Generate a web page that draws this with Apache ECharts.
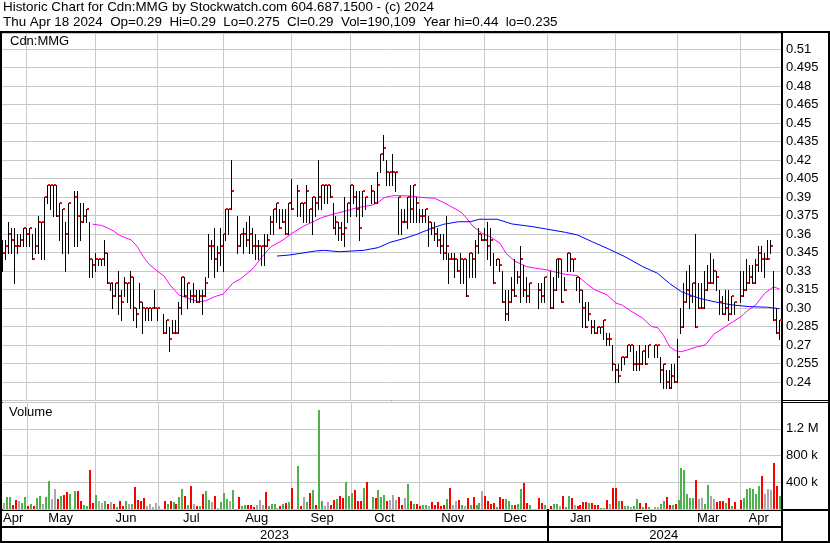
<!DOCTYPE html>
<html><head><meta charset="utf-8">
<script src="https://cdn.jsdelivr.net/npm/echarts@6.0.0/dist/echarts.min.js"></script>
<style>html,body{margin:0;padding:0;background:#fff}#c{width:830px;height:543px}</style>
</head><body><div id="c"></div>
<script>
// ---------- DATA ----------
const firstDay = '2023-04-19', lastDay = '2024-04-18';   // one slot per weekday; holidays are null
const high = [.355,.355,.37,.365,.365,.36,.36,.365,.365,.365,
.36,.365,.375,.37,.39,.40,.40,.40,.40,.385,
.38,.37,.385,null,.395,.395,.385,.385,.38,.37,
.34,.345,.34,.34,.355,.345,.32,.32,.32,.33,
.315,.325,.32,.33,.325,.30,.32,.305,.30,.30,
.30,.315,.30,null,.295,.29,.285,.29,.29,.305,
.325,.325,.32,.315,.32,.315,.315,.315,.325,.36,
.355,.365,.35,.365,.36,.38,.38,.42,null,.375,
.36,.365,.37,.375,.365,.36,.355,.35,.36,.36,
.375,.38,.385,.38,.38,.38,.385,.405,null,.40,
.385,.385,.40,.38,.39,.39,.42,.40,.40,.40,
.40,.385,.375,.37,.37,.39,.385,.40,.40,.395,
.395,.395,.39,null,.40,.395,.41,.425,.44,.42,
.41,.425,.41,.39,.38,.38,.39,.40,.40,.39,
.38,.38,.38,.375,.37,.37,.365,.36,.36,.375,
.345,.345,.345,.34,.345,.34,.34,.345,.345,.355,
.365,.36,.365,.37,.365,.345,.34,.34,.33,.315,
.315,.325,.34,.33,.35,.335,.325,.32,null,null,
.32,.32,.325,null,.33,.325,.34,.34,.34,.325,
.345,.345,.34,.325,.325,.315,.305,.305,.29,.29,
.285,.285,.29,.28,.28,.27,.255,.255,.26,.26,
.27,.27,.27,.265,.27,.265,.27,.27,null,.27,
.27,.26,.255,.25,.25,.255,.255,.275,.30,.32,
.33,.335,.32,.36,.32,.32,.33,.335,.345,.34,
.33,.315,.31,.315,.315,.31,.305,null,.33,.33,
.34,.335,.335,.34,.35,.35,.345,.355,.355,.33,
.30,.29];
const low = [.33,.34,.345,.345,.32,.345,.35,.35,.35,.35,
.34,.345,.345,.34,.34,.385,.38,.375,.375,.355,
.345,.33,.345,null,.35,.35,.355,.37,.37,.325,
.325,.33,.335,.335,.335,.32,.315,.30,.31,.295,
.29,.31,.305,.30,.29,.285,.30,.28,.29,.29,
.29,.30,.29,null,.28,.28,.265,.28,.28,.28,
.295,.31,.30,.305,.305,.305,.305,.295,.31,.325,
.34,.325,.33,.335,.33,.355,.36,.38,null,.345,
.35,.345,.35,.345,.345,.34,.34,.335,.335,.35,
.36,.36,.37,.365,.37,.36,.36,.38,null,.375,
.375,.37,.37,.37,.36,.375,.38,.38,.385,.385,
.39,.365,.36,.355,.355,.35,.37,.375,.385,.375,
.355,.375,.38,null,.385,.385,.385,.41,.42,.40,
.40,.40,.395,.36,.36,.37,.365,.37,.37,.37,
.37,.37,.37,.35,.36,.355,.35,.345,.34,.34,
.32,.34,.325,.33,.32,.32,.31,.325,.325,.325,
.345,.355,.355,.34,.335,.32,.335,.33,.305,.29,
.29,.305,.31,.32,.305,.31,.305,.305,null,null,
.30,.305,.305,null,.30,.30,.315,.325,.305,.315,
.33,.33,.33,.315,.305,.285,.285,.29,.28,.28,
.28,.28,.275,.27,.27,.25,.24,.24,.25,.255,
.26,.265,.25,.25,.25,.255,.255,.26,null,.26,
.26,.24,.235,.235,.235,.235,.24,.24,.28,.285,
.305,.30,.305,.285,.30,.30,.30,.315,.32,.32,
.315,.295,.295,.295,.29,.295,.295,null,.305,.31,
.315,.32,.32,.32,.33,.33,.325,.34,.345,.29,
.28,.275];
const close = [.345,.35,.36,.355,.35,.35,.355,.365,.36,.365,
.34,.35,.37,.37,.39,.40,.40,.40,.375,.385,
.38,.36,.385,null,.39,.375,.37,.375,.38,.34,
.335,.34,.34,.34,.345,.32,.32,.31,.32,.31,
.305,.32,.32,.325,.30,.295,.305,.30,.30,.30,
.30,.30,.30,null,.28,.29,.275,.28,.28,.30,
.325,.31,.32,.31,.31,.305,.31,.31,.32,.35,
.35,.34,.345,.35,.36,.38,.38,.395,null,.35,
.36,.36,.355,.36,.35,.35,.35,.35,.35,.355,
.37,.38,.385,.365,.37,.36,.385,.38,null,.395,
.385,.385,.395,.38,.39,.385,.39,.40,.40,.40,
.39,.365,.37,.365,.36,.365,.385,.40,.39,.38,
.365,.395,.39,null,.395,.385,.40,.425,.43,.41,
.41,.41,.41,.39,.37,.37,.39,.38,.40,.385,
.375,.375,.38,.37,.365,.36,.355,.35,.345,.35,
.34,.34,.34,.33,.34,.34,.31,.345,.34,.35,
.36,.355,.355,.35,.355,.32,.34,.335,.305,.295,
.305,.315,.31,.325,.34,.315,.31,.32,null,null,
.315,.31,.325,null,.30,.315,.34,.34,.305,.315,
.345,.34,.34,.325,.315,.30,.285,.295,.285,.28,
.285,.285,.29,.275,.275,.255,.25,.245,.26,.26,
.27,.27,.255,.255,.255,.265,.255,.27,null,.27,
.27,.25,.255,.24,.235,.245,.24,.26,.285,.305,
.315,.31,.32,.285,.30,.30,.315,.32,.32,.33,
.325,.305,.295,.30,.295,.31,.305,null,.31,.315,
.32,.325,.32,.335,.345,.34,.34,.34,.35,.29,
.28,.29];
// volume in thousands of shares; colour code per day: g = up, r = down, n = unchanged, - = no trading
const volumeK = [84,174,185,59,135,119,84,174,45,70,
45,160,190,75,179,419,149,294,144,194,
209,249,224,null,269,269,119,59,45,583,
84,209,119,89,119,75,105,75,32,119,
45,119,70,80,328,135,119,164,45,75,
32,89,45,null,119,75,119,105,70,179,
299,194,67,344,75,45,45,224,269,135,
105,194,15,105,239,149,119,284,null,179,
45,59,59,59,32,59,135,59,254,45,
75,75,15,45,75,89,105,314,null,643,
45,179,105,239,284,59,1480,119,45,105,
59,135,149,194,164,404,194,239,284,119,
119,314,404,null,179,164,284,179,209,119,
135,209,135,179,59,164,374,119,75,75,
45,59,59,45,105,59,105,45,59,149,
314,59,119,135,59,45,164,59,179,59,
89,269,194,119,75,89,32,179,149,149,
119,59,59,75,299,388,89,59,null,null,
164,89,59,null,45,75,75,45,194,32,
194,164,59,45,59,105,105,89,89,59,
59,15,15,135,75,314,314,119,119,45,
45,32,45,149,89,32,89,32,null,32,
32,75,119,179,59,59,75,135,613,583,
224,164,164,434,149,164,75,358,194,149,
105,119,119,89,164,45,105,null,135,164,
299,314,299,224,344,493,224,299,284,688,
344,190.109];
const volumeDir = "nggrrnggrg"+"rggnggnnrg"+"rrg-grrggr"+"rgnngrnrgr"+"rgngrrrrnn"+
"nnn-rgrgrg"+"grgrnrgrgg"+"nrngggng-r"+"ggrrrnnnrg"+"ggnrgrgr-g"+
"rngrgrggnn"+"rrgrrgggrr"+"rgr-grgggr"+"nnnrrngrgr"+"rggnrrrrrg"+
"rnnrgnrgrg"+"gnrrrrgrrg"+"ggrggrrg--"+"rrg-rggnrg"+"grnrrrrgrr"+
"rggrnrrgrg"+"gnggrgrg-n"+"nggrrgrggg"+"gggrnnggnn"+"rrrgrgr-rg"+
"gggggrnnnr"+"rg";
// moving averages: [day slot, value]
const maShort = [[30,.368],[33,.367],[35,.365],[37,.3625],[39,.359],[41,.357],[43,.3552],[45,.3498],[47,.3417],[49,.3355],[52,.3295],[54,.326],[56,.3187],[59,.3107],[62,.308],[66,.3052],[68,.306],[71,.3093],[74,.3115],[77,.32],[80,.3242],[84,.3323],[87,.3417],[90,.3498],[94,.3552],[97,.3606],[101,.3665],[105,.371],[107,.3733],[110,.3755],[115,.3787],[119,.3814],[124,.3835],[126,.3857],[128,.3895],[131,.3911],[134,.3911],[137,.3908],[140,.3898],[145,.389],[147,.3868],[150,.383],[154,.3776],[156,.3722],[158,.366],[161,.3606],[164,.3574],[167,.3525],[169,.3444],[172,.338],[176,.3336],[179,.3323],[183,.3309],[186,.329],[189,.3274],[193,.3263],[196,.32],[199,.3147],[203,.3107],[206,.304],[208,.3026],[211,.2977],[215,.2918],[218,.285],[220,.2842],[222,.278],[224,.2688],[226,.2655],[228,.2647],[230,.2661],[233,.2685],[236,.2701],[239,.279],[242,.2837],[245,.2885],[248,.293],[250,.2975],[253,.3026],[256,.312],[259,.3172],[261,.3155]];
const maLong = [[92,.3422],[96,.343],[100,.3444],[105,.3463],[108,.3468],[113,.3457],[121,.3468],[126,.349],[130,.3533],[135,.3566],[139,.3598],[144,.3647],[148,.3679],[153,.37],[157,.37],[160,.372],[166,.372],[171,.3682],[178,.366],[183,.3639],[189,.3614],[193,.3593],[198,.3538],[203,.3485],[209,.3417],[215,.3336],[220,.3282],[224,.32],[228,.3133],[234,.308],[239,.3052],[245,.3026],[251,.3012],[257,.3007],[261,.2995]];
const monthNames = ['Jan','Feb','Mar','Apr','May','Jun','Jul','Aug','Sep','Oct','Nov','Dec'];
const headerLine1 = 'Historic Chart for Cdn:MMG by Stockwatch.com 604.687.1500 - (c) 2024';
const headerLine2 = 'Thu Apr 18 2024  Op=0.29  Hi=0.29  Lo=0.275  Cl=0.29  Vol=190,109  Year hi=0.44  lo=0.235';

// ---------- BUILD ----------
const days = [];
for (let d = new Date(firstDay + 'T00:00:00Z'); d <= new Date(lastDay + 'T00:00:00Z'); d.setUTCDate(d.getUTCDate() + 1)) {
  const w = d.getUTCDay(); if (w === 0 || w === 6) continue;
  days.push(d.toISOString().slice(0, 10));
}
const N = days.length;
const monthLines = [];
for (let i = 1; i < N; i++) {
  if (days[i].slice(0, 7) !== days[i - 1].slice(0, 7)) monthLines.push(days[i].slice(8) === '01' ? i : i - 1);
}
const bounds = [-0.5].concat(monthLines, [N - 0.5]);
const monthLabelIdx = {};
for (let k = 0; k < bounds.length - 1; k++) {
  const mid = Math.floor((bounds[k] + bounds[k + 1]) / 2);
  monthLabelIdx[mid] = monthNames[parseInt(days[mid].slice(5, 7), 10) - 1];
}
const yearLine = monthLines.find(i => days[i].slice(0, 7) === '2024-01');
const yearLabelIdx = {};
yearLabelIdx[Math.floor((-0.5 + yearLine) / 2)] = days[0].slice(0, 4);
yearLabelIdx[Math.floor((yearLine + N - 0.5) / 2)] = days[N - 1].slice(0, 4);

const priceData = [], volData = [];
for (let i = 0; i < N; i++) {
  if (high[i] != null) priceData.push([i, high[i], low[i], close[i]]);
  if (volumeK[i] != null) volData.push([i, volumeK[i] * 1000, 'grn'.indexOf(volumeDir[i])]);
}
const volColors = ['#4db24d', '#ff0000', '#a8a8a8'];
const GRID = '#c8c8c8';
const FONT = '"Liberation Sans", Arial, sans-serif';

function fmtPrice(v) {
  const r = Math.round(v * 1000) / 1000;
  if (r < 0.2375 || r > 0.515) return '';
  let s = r.toFixed(3);
  if (s.endsWith('0')) s = s.slice(0, -1);
  return s;
}
function fmtVol(v) {
  if (v <= 0 || v >= 1600000) return '';
  return v >= 1000000 ? (v / 1000000) + ' M' : (v / 1000) + ' k';
}
function gridLineItem(params, api) {
  const cs = params.coordSys;
  const x = Math.round(api.coord([api.value(0), api.value(1)])[0]) - 0.5;
  const kids = [{ type: 'line', shape: { x1: x, y1: cs.y, x2: x, y2: cs.y + cs.height }, style: { stroke: GRID, lineWidth: 1 } }];
  if (params.seriesIndex === 1 && api.value(0) === yearLine) {
    kids.push({ type: 'rect', shape: { x: Math.round(x) - 1, y: cs.y + cs.height, width: 2, height: 32 }, style: { fill: '#000' } });
  }
  return { type: 'group', children: kids };
}

const chart = echarts.init(document.getElementById('c'));
chart.setOption({
  animation: false,
  backgroundColor: '#fff',
  grid: [
    { left: 2, top: 33, width: 779, height: 367.7 },
    { left: 2, top: 402, width: 779, height: 107 }
  ],
  xAxis: [
    { type: 'category', gridIndex: 0, data: days, boundaryGap: true, axisLine: { show: false }, axisTick: { show: false }, axisLabel: { show: false }, splitLine: { show: false } },
    { type: 'category', gridIndex: 1, data: days, boundaryGap: true, axisLine: { show: false }, axisTick: { show: false }, splitLine: { show: false },
      axisLabel: { interval: (i) => monthLabelIdx[i] !== undefined, formatter: (v, i) => monthLabelIdx[i] || '', margin: 3, color: '#000', fontSize: 13, fontFamily: FONT } },
    { type: 'category', gridIndex: 1, data: days, boundaryGap: true, position: 'bottom', offset: 17, axisLine: { show: false }, axisTick: { show: false }, splitLine: { show: false },
      axisLabel: { interval: (i) => yearLabelIdx[i] !== undefined, formatter: (v, i) => yearLabelIdx[i] || '', margin: 3, color: '#000', fontSize: 13, fontFamily: FONT } }
  ],
  yAxis: [
    { type: 'value', gridIndex: 0, position: 'right', min: 0.225, max: 0.5229, interval: 0.015,
      axisLine: { show: false }, axisTick: { show: false },
      splitLine: { lineStyle: { color: GRID, width: 1 } },
      axisLabel: { formatter: fmtPrice, margin: 5, color: '#000', fontSize: 13, fontFamily: FONT } },
    { type: 'value', gridIndex: 1, position: 'right', min: 0, max: 1600000, interval: 400000,
      axisLine: { show: false }, axisTick: { show: false },
      splitLine: { lineStyle: { color: GRID, width: 1 } },
      axisLabel: { formatter: fmtVol, margin: 5, color: '#000', fontSize: 13, fontFamily: FONT } }
  ],
  series: [
    { type: 'custom', xAxisIndex: 0, yAxisIndex: 0, silent: true, z: 1, data: monthLines.map(i => [i, 0.3]), renderItem: gridLineItem },
    { type: 'custom', xAxisIndex: 1, yAxisIndex: 1, silent: true, z: 1, clip: false, data: monthLines.map(i => [i, 0]), renderItem: gridLineItem },
    { type: 'line', xAxisIndex: 0, yAxisIndex: 0, data: maShort, showSymbol: false, connectNulls: true, z: 2, silent: true, lineStyle: { color: '#ff00ff', width: 1 } },
    { type: 'line', xAxisIndex: 0, yAxisIndex: 0, data: maLong, showSymbol: false, connectNulls: true, z: 2, silent: true, lineStyle: { color: '#0000ff', width: 1 } },
    { type: 'custom', xAxisIndex: 0, yAxisIndex: 0, z: 3, silent: true, data: priceData, encode: { x: 0, y: [1, 2, 3] },
      renderItem: function (params, api) {
        const i = api.value(0);
        const ph = api.coord([i, api.value(1)]);
        const yl = Math.round(api.coord([i, api.value(2)])[1]);
        const yc = Math.round(api.coord([i, api.value(3)])[1]);
        const x = Math.round(ph[0]);
        const yh = Math.round(ph[1]);
        return { type: 'group', children: [
          { type: 'rect', shape: { x: x - 1, y: yh, width: 1, height: Math.max(1, yl - yh + 1) }, style: { fill: '#000' } },
          { type: 'rect', shape: { x: x, y: yc - 1, width: 2, height: 2 }, style: { fill: '#ff0000' } }
        ] };
      } },
    { type: 'custom', xAxisIndex: 1, yAxisIndex: 1, z: 3, silent: true, data: volData, encode: { x: 0, y: 1 },
      renderItem: function (params, api) {
        const i = api.value(0);
        const top = api.coord([i, api.value(1)]);
        const base = Math.round(api.coord([i, 0])[1]);
        const x = Math.round(top[0]);
        const yt = Math.round(top[1]);
        return { type: 'rect', shape: { x: x - 1, y: yt, width: 2, height: Math.max(1, base - yt) }, style: { fill: volColors[api.value(2)] } };
      } }
  ],
  graphic: [
    { type: 'text', left: 3, top: 1, style: { text: headerLine1, font: '13.4px ' + FONT, fill: '#000' } },
    { type: 'text', left: 3, top: 16, style: { text: headerLine2, font: '13.4px ' + FONT, fill: '#000' } },
    { type: 'text', left: 10, top: 35, style: { text: 'Cdn:MMG', font: '13px ' + FONT, fill: '#000' } },
    { type: 'text', left: 9, top: 406, style: { text: 'Volume', font: '13px ' + FONT, fill: '#000' } },
    { type: 'rect', shape: { x: 0, y: 31, width: 830, height: 2 }, style: { fill: '#000' } },
    { type: 'rect', shape: { x: 0, y: 31, width: 2, height: 512 }, style: { fill: '#000' } },
    { type: 'rect', shape: { x: 781, y: 31, width: 2, height: 511 }, style: { fill: '#000' } },
    { type: 'rect', shape: { x: 828, y: 31, width: 2, height: 512 }, style: { fill: '#000' } },
    { type: 'rect', shape: { x: 0, y: 400, width: 830, height: 1 }, style: { fill: '#000' } },
    { type: 'rect', shape: { x: 0, y: 402, width: 830, height: 1 }, style: { fill: '#000' } },
    { type: 'rect', shape: { x: 0, y: 509, width: 830, height: 2 }, style: { fill: '#000' } },
    { type: 'rect', shape: { x: 0, y: 526, width: 783, height: 2 }, style: { fill: '#000' } },
    { type: 'rect', shape: { x: 0, y: 541, width: 830, height: 2 }, style: { fill: '#000' } }
  ]
});
</script>
</body></html>
